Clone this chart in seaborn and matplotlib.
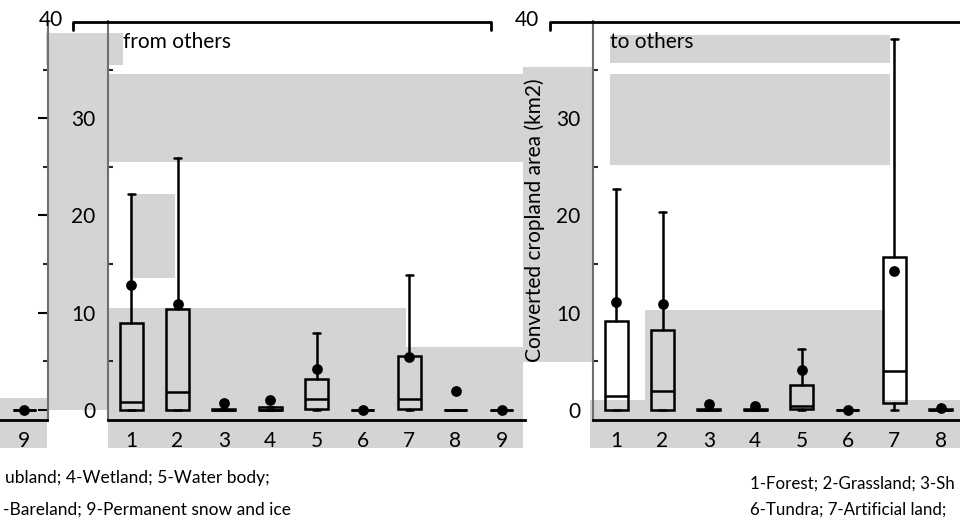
import matplotlib
matplotlib.use("Agg")
import matplotlib.pyplot as plt
import seaborn as sns
import numpy as np
import pandas as pd
from matplotlib.patches import Rectangle
from matplotlib.lines import Line2D

# ---------------- data ----------------
categories = [1, 2, 3, 4, 5, 6, 7, 8, 9]
tick_labels = ["1", "2", "3", "4", "5", "6", "7", "8", "9"]

# Converted cropland area from others (km2)
from_whishi = [22.2, 25.9, 0.05, 0.3, 7.95, 0.0, 13.9, 0.0, 0.0]
from_q3 = [8.9, 10.35, 0.05, 0.3, 3.2, 0.0, 5.6, 0.0, 0.0]
from_med = [0.85, 1.8, 0.0, 0.0, 1.1, 0.0, 1.15, 0.0, 0.0]
from_q1 = [0.0, 0.0, 0.0, 0.0, 0.1, 0.0, 0.1, 0.0, 0.0]
from_whislo = [0.0, 0.0, 0.0, 0.0, 0.0, 0.0, 0.0, 0.0, 0.0]
from_mean = [12.85, 10.9, 0.75, 1.0, 4.2, 0.0, 5.4, 1.95, 0.0]

# Converted cropland area to others (km2)
to_whishi = [22.7, 20.35, 0.05, 0.05, 6.3, 0.0, 38.1, 0.05, 0.0]
to_q3 = [9.15, 8.2, 0.05, 0.05, 2.55, 0.0, 15.7, 0.05, 0.0]
to_med = [1.45, 1.95, 0.0, 0.0, 0.45, 0.0, 4.0, 0.0, 0.0]
to_q1 = [0.0, 0.0, 0.0, 0.0, 0.07, 0.0, 0.7, 0.0, 0.0]
to_whislo = [0.0, 0.0, 0.0, 0.0, 0.0, 0.0, 0.0, 0.0, 0.0]
to_mean = [11.1, 10.9, 0.6, 0.45, 4.1, 0.0, 14.3, 0.25, 0.0]

ylabel = "Converted cropland area (km2)"
title_from = "from others"
title_to = "to others"
# category key, as visible (cut) in the two copies of the picture
key_left_1 = "ubland; 4-Wetland; 5-Water body;"
key_left_2 = "-Bareland; 9-Permanent snow and ice"
key_right_1 = "1-Forest; 2-Grassland; 3-Sh"
key_right_2 = "6-Tundra; 7-Artificial land;"

# ---------------- style ----------------
sns.set_theme(style="white")
plt.rcParams["font.family"] = ["Lato", "DejaVu Sans"]

W, H = 960, 518
fig = plt.figure(figsize=(9.6, 5.18), dpi=100)
fig.patch.set_facecolor("white")
GRAY = "#d4d4d4"


def pxrect(x0, y0, x1, y1):
    return [x0 / W, 1 - y1 / H, (x1 - x0) / W, (y1 - y0) / H]


def fx(x):
    return x / W


def fy(y):
    return 1 - y / H


# gray overlay blocks (background)
gray_blocks = [
    (46, 33, 123, 65), (47, 65, 108, 410), (0, 398, 47, 448),
    (108, 74, 523, 162), (523, 67, 593, 362), (610, 35, 890, 63),
    (610, 74, 890, 165), (130, 194, 175, 278), (108, 308, 406, 448),
    (406, 347, 523, 448), (590, 400, 960, 448), (645, 310, 885, 448),
]
for (x0, y0, x1, y1) in gray_blocks:
    fig.add_artist(Rectangle((fx(x0), fy(y1)), (x1 - x0) / W, (y1 - y0) / H,
                             transform=fig.transFigure, facecolor=GRAY,
                             edgecolor="none", zorder=-1))

YLIM = (-1.03, 40.0)


def build_stats(whislo, q1, med, q3, whishi):
    return [dict(whislo=a, q1=b, med=c, q3=d, whishi=e, fliers=[])
            for a, b, c, d, e in zip(whislo, q1, med, q3, whishi)]


def draw_panel(ax, stats, means, cats):
    ax.set_facecolor("none")
    ax.bxp(stats, positions=cats, widths=0.5, showfliers=False,
           patch_artist=True, capwidths=0.15,
           boxprops=dict(facecolor="none", edgecolor="black", linewidth=1.8),
           medianprops=dict(color="black", linewidth=1.8),
           whiskerprops=dict(color="black", linewidth=1.8),
           capprops=dict(color="black", linewidth=1.8),
           manage_ticks=False)
    df = pd.DataFrame({"cat": cats, "mean": means})
    sns.scatterplot(data=df, x="cat", y="mean", ax=ax, color="black",
                    s=60, edgecolor="black", linewidth=0, zorder=5)
    ax.set_ylim(*YLIM)
    ax.set_xlabel("")
    ax.set_ylabel("")
    ax.set_xticks(categories)
    ax.set_xticklabels(tick_labels)
    ax.set_yticks([0, 10, 20, 30])
    ax.set_yticks([5, 15, 25, 35], minor=True)
    for s in ["top", "right"]:
        ax.spines[s].set_visible(False)
    ax.spines["bottom"].set_color("black")
    ax.spines["bottom"].set_linewidth(2)
    ax.spines["left"].set_color("#6f6f6f")
    ax.spines["left"].set_linewidth(1.5)
    ax.tick_params(axis="x", length=0, labelsize=15, pad=8, colors="black")
    ax.tick_params(axis="y", which="major", direction="in", length=7,
                   width=1.5, labelsize=15, pad=9, colors="black")
    ax.tick_params(axis="y", which="minor", direction="in", length=3.5,
                   width=1.5, left=True)


# left partial panel (only category 9 visible)
ax0 = fig.add_axes(pxrect(0, 21, 47.5, 420))
draw_panel(ax0, build_stats(to_whislo, to_q1, to_med, to_q3, to_whishi)[8:],
           to_mean[8:], categories[8:])
ax0.set_xlim(8.48, 9.5)
ax0.spines["left"].set_visible(False)
ax0.spines["right"].set_visible(True)
ax0.spines["right"].set_color("#6f6f6f")
ax0.spines["right"].set_linewidth(1.5)
ax0.yaxis.tick_right()
ax0.tick_params(axis="y", which="both", labelright=False, direction="in")
ax0.set_xticks([9])
ax0.set_xticklabels(["9"])

# panel: from others
ax1 = fig.add_axes(pxrect(108, 21, 525, 420))
draw_panel(ax1, build_stats(from_whislo, from_q1, from_med, from_q3, from_whishi),
           from_mean, categories)
ax1.set_xlim(0.5, 9.5)

# panel: to others (runs past the right edge; label 9 not shown)
ax2 = fig.add_axes(pxrect(593, 21, 1010, 420))
draw_panel(ax2, build_stats(to_whislo, to_q1, to_med, to_q3, to_whishi),
           to_mean, categories)
ax2.set_xlim(0.5, 9.5)
ax2.set_xticks(categories[:8])
ax2.set_xticklabels(tick_labels[:8])
ax2.set_ylabel(ylabel, fontsize=15, color="black", labelpad=8)

# shifted top strip: "40" labels and top frame lines
for xc in (51, 527):
    fig.text(fx(xc), fy(20), "40", fontsize=15, ha="center", va="center",
             color="black")
lw = 2.0
fig.add_artist(Line2D([fx(73), fx(73), fx(491), fx(491)],
                      [fy(30), fy(22), fy(22), fy(30)],
                      transform=fig.transFigure, color="black", lw=lw))
fig.add_artist(Line2D([fx(550), fx(550), fx(960)],
                      [fy(30), fy(22), fy(22)],
                      transform=fig.transFigure, color="black", lw=lw))

# panel titles
fig.text(fx(123), fy(42), title_from, fontsize=15, ha="left", va="center",
         color="black")
fig.text(fx(610), fy(42), title_to, fontsize=15, ha="left", va="center",
         color="black")

# category key text
fig.text(fx(5), fy(478), key_left_1, fontsize=12.5, ha="left", va="center",
         color="black")
fig.text(fx(3), fy(510), key_left_2, fontsize=12.5, ha="left", va="center",
         color="black")
fig.text(fx(750), fy(484), key_right_1, fontsize=12.2, ha="left", va="center",
         color="black")
fig.text(fx(750), fy(510), key_right_2, fontsize=12.2, ha="left", va="center",
         color="black")

fig.savefig("out.png", dpi=100)
